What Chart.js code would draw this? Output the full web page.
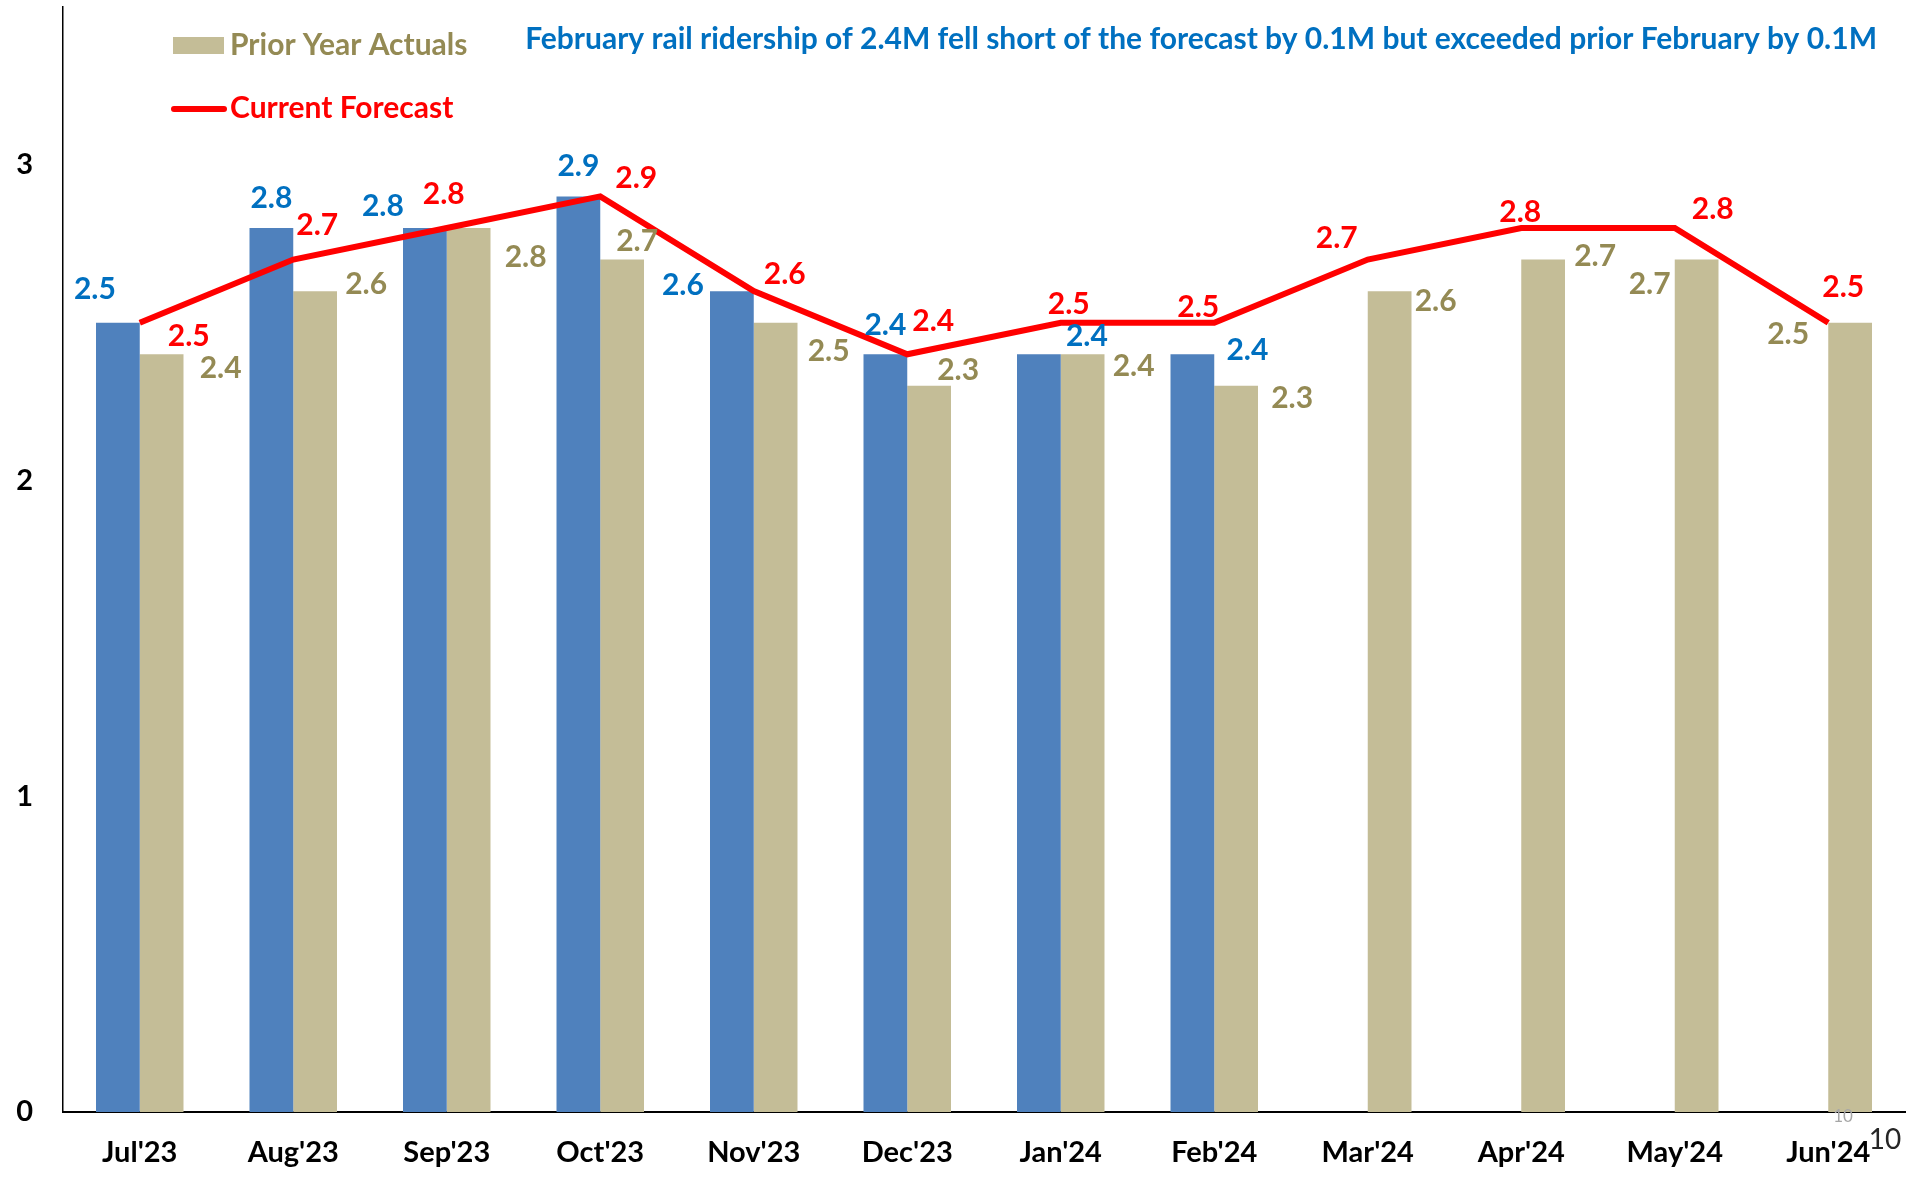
<!DOCTYPE html>
<html>
<head>
<meta charset="utf-8">
<title>Rail ridership</title>
<script src="https://cdn.jsdelivr.net/npm/chart.js@4.4.1/dist/chart.umd.min.js"></script>
<style>
  html, body { margin: 0; padding: 0; background: #fff; }
</style>
</head>
<body>
<canvas id="chart" width="1907" height="1177"></canvas>
<script>
(() => {
  'use strict'

  const months = ["Jul'23", "Aug'23", "Sep'23", "Oct'23", "Nov'23", "Dec'23",
                  "Jan'24", "Feb'24", "Mar'24", "Apr'24", "May'24", "Jun'24"];
  const actuals = [2.5, 2.8, 2.8, 2.9, 2.6, 2.4, 2.4, 2.4, null, null, null, null];
  const priorYear = [2.4, 2.6, 2.8, 2.7, 2.5, 2.3, 2.4, 2.3, 2.6, 2.7, 2.7, 2.5];
  const forecast = [2.5, 2.7, 2.8, 2.9, 2.6, 2.4, 2.5, 2.5, 2.7, 2.8, 2.8, 2.5];
  const yTicks = [0, 1, 2, 3];

  const titleText = 'February rail ridership of 2.4M fell short of the forecast by 0.1M but exceeded prior February by 0.1M';

  const BLUE = '#4F81BD';
  const TAN = '#C4BD97';
  const RED = '#FF0000';
  const FONT = 'Lato, "Open Sans", sans-serif';

  // hand-placed label nudges (px), like in the original slide
  const labelStyle = [
    { color: '#0070C0', nudge: [[-23,-33],[0,-30],[-42,-22],[0,-30],[-49,-6],[0,-29],[48,-18],[55,-4]] },
    { color: '#948A54', nudge: [[59,14],[51,-7],[57,29],[15,-18],[53,29],[29,-16],[51,12],[56,12],[46,10],[52,-3],[-47,25],[-62,12]] },
    { color: RED, nudge: [[49,14],[24,-34],[-3,-34],[36,-18],[31,-17],[26,-33],[8,-18],[-16,-15],[-31,-21],[-1,-16],[38,-19],[15,-35]] }
  ];

  const decorPlugin = {
    id: 'decor',
    afterDatasetsDraw(chart) {
      const ctx = chart.ctx;
      ctx.save();
      ctx.textBaseline = 'middle';

      // value labels
      ctx.textAlign = 'center';
      ctx.font = 'bold 30px ' + FONT;
      chart.data.datasets.forEach((ds, di) => {
        const meta = chart.getDatasetMeta(di);
        const style = labelStyle[di];
        meta.data.forEach((el, i) => {
          const v = ds.data[i];
          if (v === null || v === undefined) return;
          const n = style.nudge[i] || [0, -25];
          ctx.fillStyle = style.color;
          ctx.fillText(v.toFixed(1), el.x + n[0], el.y + n[1]);
        });
      });

      // legend
      ctx.textAlign = 'left';
      ctx.font = 'bold 30px ' + FONT;
      ctx.fillStyle = TAN;
      ctx.fillRect(173, 37, 51, 17);
      ctx.fillStyle = '#948A54';
      ctx.fillText('Prior Year Actuals', 230, 45);
      ctx.strokeStyle = RED;
      ctx.lineWidth = 6;
      ctx.lineCap = 'round';
      ctx.beginPath();
      ctx.moveTo(174, 109);
      ctx.lineTo(224, 109);
      ctx.stroke();
      ctx.fillStyle = RED;
      ctx.fillText('Current Forecast', 230, 108);

      // headline
      ctx.textAlign = 'right';
      ctx.font = 'bold 30px ' + FONT;
      ctx.fillStyle = '#0070C0';
      ctx.fillText(titleText, 1877, 39);

      // page number leftovers
      ctx.textAlign = 'center';
      ctx.font = '17px ' + FONT;
      ctx.fillStyle = '#A6A6A6';
      ctx.fillText('10', 1843, 1117);
      ctx.font = '28px ' + FONT;
      ctx.fillStyle = '#262626';
      ctx.fillText('10', 1885, 1140);

      ctx.restore();
    }
  };

  new Chart(document.getElementById('chart'), {
    data: {
      labels: months,
      datasets: [
        { type: 'bar', label: 'Actuals', data: actuals, backgroundColor: BLUE, order: 2,
          categoryPercentage: 0.57, barPercentage: 1 },
        { type: 'bar', label: 'Prior Year Actuals', data: priorYear, backgroundColor: TAN, order: 2,
          categoryPercentage: 0.57, barPercentage: 1 },
        { type: 'line', label: 'Current Forecast', data: forecast, borderColor: RED, borderWidth: 6,
          pointRadius: 0, tension: 0, fill: false, order: 0 }
      ]
    },
    options: {
      responsive: false,
      animation: false,
      layout: { padding: { top: 7, right: 2, left: 0, bottom: 0 } },
      plugins: {
        legend: { display: false },
        tooltip: { enabled: false }
      },
      scales: {
        x: {
          grid: { display: false, drawTicks: false },
          border: { display: true, color: '#000', width: 2 },
          ticks: { color: '#000', font: { family: FONT, size: 29, weight: 'bold' }, padding: 23, maxRotation: 0 },
          afterFit: scale => { scale.height = 65 }
        },
        y: {
          min: 0,
          max: 3.5,
          grid: { display: false, drawTicks: false },
          border: { display: true, color: '#000', width: 1.5 },
          afterBuildTicks: scale => { scale.ticks = yTicks.map(v => ({ value: v })) },
          ticks: { color: '#000', font: { family: FONT, size: 29, weight: 'bold' }, padding: 30 },
          afterFit: scale => {
            scale.width = 63
            scale.paddingTop = 0
            scale.paddingBottom = 0
          }
        }
      }
    },
    plugins: [decorPlugin]
  });
})()
</script>
</body>
</html>
